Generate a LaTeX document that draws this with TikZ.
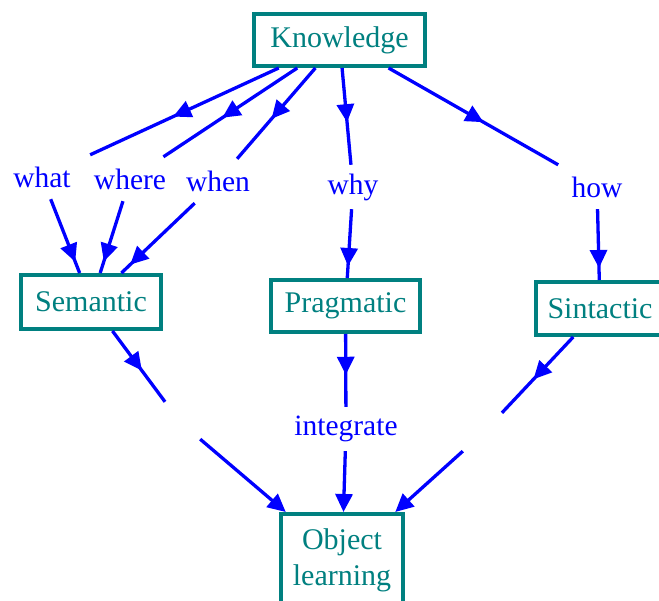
\documentclass[tikz,border=0pt]{standalone}
\usepackage{fontspec}
\setmainfont{Liberation Serif}
\usetikzlibrary{arrows.meta,decorations.markings,calc}
\definecolor{tealc}{RGB}{0,128,128}
\definecolor{arrowblue}{RGB}{0,0,255}
\begin{document}
\begin{tikzpicture}[x=1pt,y=-1pt,
  box/.style={draw=tealc, line width=4pt, text=tealc, font=\fontsize{30}{36}\selectfont, inner sep=0pt, align=center},
  lab/.style={text=arrowblue, font=\fontsize{29.5}{34}\selectfont, minimum width=100pt, minimum height=44pt, inner sep=0pt},
  gapnode/.style={minimum width=40pt, minimum height=40pt, inner sep=0pt},
  conn/.style={draw=arrowblue, line width=3.3pt},
  midarrow/.style={conn, postaction={decorate}, decoration={markings, mark=at position 0.56 with {\arrow{Triangle[length=18pt,width=17pt]}}}},
  nearend/.style={conn, postaction={decorate}, decoration={markings, mark=at position -12pt with {\arrow{Triangle[length=18pt,width=17pt]}}}},
  endarrow/.style={conn, -{Triangle[length=18pt,width=17pt]}},
]
\useasboundingbox[fill=white] (0,0) rectangle (659,601);

% boxes
\node[box, minimum width=171pt, minimum height=52pt] (K) at (339.5,40) {Knowledge};
\node[box, minimum width=140pt, minimum height=54pt] (Sem) at (91,302) {Semantic};
\node[box, minimum width=149pt, minimum height=52pt] (Prag) at (345.5,306) {Pragmatic};
\node[box, minimum width=128pt, minimum height=53pt] (Sin) at (600,308.5) {Sintactic};
\node[box, minimum width=122pt, minimum height=92pt] (OL) at (342,560) {Object\\learning};

% labels
\node[lab] (what) at (42,177) {what};
\node[lab] (where) at (130,179) {where};
\node[lab] (when) at (218,181) {when};
\node[lab] (why) at (353,187) {why};
\node[lab] (how) at (597,187) {how};
\node[lab] (integ) at (346,429) {integrate};
\node[gapnode] (e1) at (180,422) {};
\node[gapnode] (e2) at (483,433) {};

% connectors
\draw[midarrow] (K) -- (what);
\draw[midarrow] (K) -- (where);
\draw[midarrow] (K) -- (when);
\draw[midarrow] (K) -- (why);
\draw[midarrow] (K) -- (how);
\draw[nearend] (what) -- (Sem);
\draw[nearend] (where) -- (Sem);
\draw[nearend] (when) -- (Sem);
\draw[nearend] (why) -- (Prag);
\draw[nearend] (how) -- (Sin);
\draw[midarrow] (Sem) -- (e1);
\draw[endarrow] (e1) -- (OL);
\draw[midarrow] (Prag) -- (integ);
\draw[endarrow] (integ) -- (OL);
\draw[midarrow] (Sin) -- (e2);
\draw[endarrow] (e2) -- (OL);
\end{tikzpicture}
\end{document}
